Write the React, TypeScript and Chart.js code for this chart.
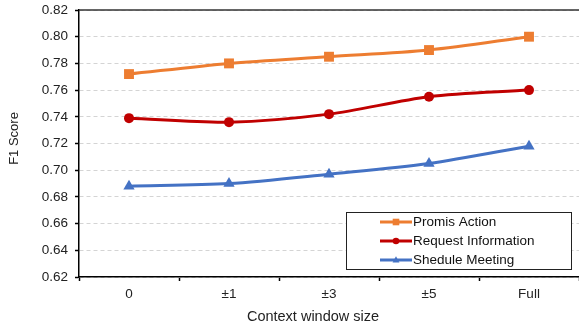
import React, { useEffect, useRef } from "react";
import { Chart, registerables } from "chart.js";

Chart.register(...registerables);

const categories = ["0", "±1", "±3", "±5", "Full"];
const promisAction = [0.772, 0.78, 0.785, 0.79, 0.8];
const requestInformation = [0.739, 0.736, 0.742, 0.755, 0.76];
const sheduleMeeting = [0.688, 0.69, 0.697, 0.705, 0.718];
const seriesNames = ["Promis Action", "Request Information", "Shedule Meeting"];
const yTicksMin = 0.62;
const yTicksMax = 0.82;
const yStep = 0.02;
const xTitle = "Context window size";
const yTitle = "F1 Score";

const COLORS = ["#ED7D31", "#C00000", "#4472C4"];
const FONT = "'Liberation Sans', Arial, sans-serif";

function drawMarker(ctx: CanvasRenderingContext2D, style: string, x: number, y: number, s: number, color: string) {
  ctx.save();
  ctx.fillStyle = color;
  ctx.beginPath();
  if (style === "rect") {
    ctx.rect(x - s, y - s, 2 * s, 2 * s);
  } else if (style === "circle") {
    ctx.arc(x, y, s, 0, Math.PI * 2);
  } else {
    ctx.moveTo(x, y - s * 1.1);
    ctx.lineTo(x + s * 1.05, y + s * 0.75);
    ctx.lineTo(x - s * 1.05, y + s * 0.75);
    ctx.closePath();
  }
  ctx.fill();
  ctx.restore();
}

const decorPlugin = {
  id: "decor",
  afterDraw(chart: any) {
    const { ctx, chartArea } = chart;
    const { left, right, top, bottom } = chartArea;
    ctx.save();
    // top border
    ctx.strokeStyle = "#333333";
    ctx.lineWidth = 1.5;
    ctx.beginPath();
    ctx.moveTo(left, top);
    ctx.lineTo(right, top);
    ctx.stroke();

    // axis titles
    ctx.fillStyle = "#222222";
    ctx.textAlign = "center";
    ctx.textBaseline = "middle";
    ctx.font = `14.5px ${FONT}`;
    ctx.fillText(xTitle, (left + right) / 2 - 16, bottom + 40);
    ctx.save();
    ctx.translate(14, (top + bottom) / 2 - 5);
    ctx.rotate(-Math.PI / 2);
    ctx.font = `13px ${FONT}`;
    ctx.fillText(yTitle, 0, 0);
    ctx.restore();

    // legend box
    const bx = right - 233;
    const by = bottom - 65;
    const bw = 225;
    const bh = 57;
    ctx.fillStyle = "#ffffff";
    ctx.fillRect(bx, by, bw, bh);
    ctx.strokeStyle = "#222222";
    ctx.lineWidth = 1;
    ctx.strokeRect(bx + 0.5, by + 0.5, bw, bh);
    const styles = ["rect", "circle", "triangle"];
    chart.data.datasets.forEach((ds: any, i: number) => {
      const cy = by + 10 + i * 19;
      const x0 = bx + 34;
      const x1 = bx + 66;
      ctx.strokeStyle = ds.borderColor;
      ctx.lineWidth = 3;
      ctx.beginPath();
      ctx.moveTo(x0, cy);
      ctx.lineTo(x1, cy);
      ctx.stroke();
      drawMarker(ctx, styles[i], (x0 + x1) / 2, cy, 3.3, ds.borderColor);
      ctx.fillStyle = "#111111";
      ctx.textAlign = "left";
      ctx.textBaseline = "middle";
      ctx.font = `13.5px ${FONT}`;
      ctx.fillText(ds.label, x1 + 1, cy + 0.5);
    });
    ctx.restore();
  },
};

export default function App() {
  const canvasRef = useRef<HTMLCanvasElement | null>(null);

  useEffect(() => {
    document.body.style.margin = "0";
    const canvas = canvasRef.current;
    if (!canvas) return;
    const mk = (label: string, data: number[], color: string, pointStyle: string, radius: number) => ({
      label,
      data,
      borderColor: color,
      backgroundColor: color,
      borderWidth: 3,
      pointStyle,
      pointRadius: radius,
      pointBorderWidth: 0,
      pointBackgroundColor: color,
      pointBorderColor: color,
      tension: 0.3,
      fill: false,
      clip: false,
    });
    const chart = new Chart(canvas, {
      type: "line",
      data: {
        labels: categories,
        datasets: [
          mk(seriesNames[0], promisAction, COLORS[0], "rect", 7),
          mk(seriesNames[1], requestInformation, COLORS[1], "circle", 5),
          mk(seriesNames[2], sheduleMeeting, COLORS[2], "triangle", 6.5),
        ],
      },
      options: {
        animation: false,
        responsive: false,
        maintainAspectRatio: false,
        devicePixelRatio: 1,
        layout: { autoPadding: false, padding: { top: 10, right: 0, left: 0, bottom: 0 } },
        plugins: {
          legend: { display: false },
          tooltip: { enabled: false },
        },
        scales: {
          x: {
            type: "category",
            offset: true,
            afterFit: (scale: any) => {
              scale.height = 49;
              scale.paddingLeft = 0;
              scale.paddingRight = 0;
            },
            grid: {
              offset: true,
              drawOnChartArea: false,
              drawTicks: true,
              tickLength: 4,
              tickColor: "#000000",
              tickWidth: 1.5,
            },
            border: { color: "#000000", width: 1.5 },
            ticks: {
              color: "#222222",
              font: { family: FONT, size: 13.5 },
              padding: 5,
              maxRotation: 0,
            },
          },
          y: {
            min: yTicksMin,
            max: yTicksMax,
            afterFit: (scale: any) => {
              scale.width = 79;
              scale.paddingTop = 0;
              scale.paddingBottom = 0;
            },
            grid: {
              color: "#d4d4d4",
              lineWidth: 1,
              drawTicks: true,
              tickLength: 4,
              tickColor: "#000000",
              tickWidth: 1.5,
              tickBorderDash: [],
            },
            border: { color: "#000000", width: 1.5, dash: [4, 3] },
            ticks: {
              stepSize: yStep,
              color: "#222222",
              font: { family: FONT, size: 13.5 },
              padding: 7,
              callback: (v: any) => Number(v).toFixed(2),
            },
          },
        },
      },
      plugins: [decorPlugin],
    } as any);
    return () => chart.destroy();
  }, []);

  return (
    <div style={{ position: "absolute", left: 0, top: 0, width: 579, height: 326 }}>
      <canvas ref={canvasRef} width={579} height={326} style={{ display: "block" }} />
    </div>
  );
}
